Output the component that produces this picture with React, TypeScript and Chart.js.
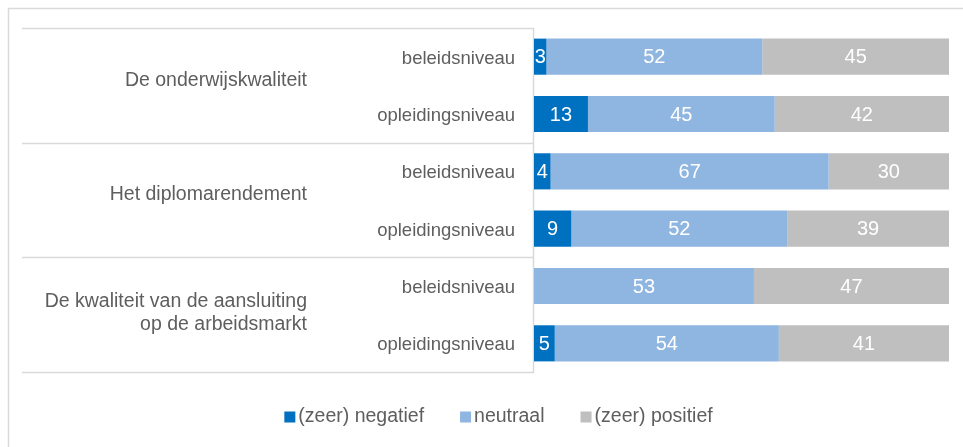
import React, { useEffect, useRef } from "react";
import { Chart, registerables } from "chart.js";

Chart.register(...registerables);

const subLabels = [
  "beleidsniveau",
  "opleidingsniveau",
  "beleidsniveau",
  "opleidingsniveau",
  "beleidsniveau",
  "opleidingsniveau",
];
const groupLabels: string[][] = [
  ["De onderwijskwaliteit"],
  ["Het diplomarendement"],
  ["De kwaliteit van de aansluiting", "op de arbeidsmarkt"],
];
const seriesNames = ["(zeer) negatief", "neutraal", "(zeer) positief"];
const negatief = [3, 13, 4, 9, 0, 5];
const neutraal = [52, 45, 67, 52, 53, 54];
const positief = [45, 42, 30, 39, 47, 41];
const colors = ["#0070C0", "#8FB5E1", "#BFBFBF"];

const FONT = '"Liberation Sans", Arial, sans-serif';
const TEXT_COLOR = "#5E5E5E";
const LINE_COLOR = "#D9D9D9";

const overlay = {
  id: "overlay",
  beforeDraw(chart: any) {
    const ctx = chart.ctx;
    const area = chart.chartArea;
    const y = chart.scales.y;
    ctx.save();
    ctx.strokeStyle = LINE_COLOR;
    ctx.lineWidth = 1.5;
    ctx.beginPath();
    ctx.moveTo(8.5, chart.height);
    ctx.lineTo(8.5, 8.5);
    ctx.lineTo(chart.width, 8.5);
    ctx.stroke();
    ctx.beginPath();
    ctx.moveTo(area.left - 0.5, area.top);
    ctx.lineTo(area.left - 0.5, area.bottom);
    ctx.stroke();
    const n = subLabels.length;
    for (let g = 0; g <= groupLabels.length; g++) {
      const idx = g * 2;
      let py: number;
      if (idx === 0) py = area.top;
      else if (idx >= n) py = area.bottom;
      else py = (y.getPixelForValue(idx - 1) + y.getPixelForValue(idx)) / 2;
      ctx.beginPath();
      ctx.moveTo(22, Math.round(py) + 0.5);
      ctx.lineTo(area.left, Math.round(py) + 0.5);
      ctx.stroke();
    }
    ctx.restore();
  },
  afterDatasetsDraw(chart: any) {
    const ctx = chart.ctx;
    const area = chart.chartArea;
    ctx.save();
    ctx.font = `20px ${FONT}`;
    ctx.fillStyle = "#FFFFFF";
    ctx.textAlign = "center";
    ctx.textBaseline = "middle";
    chart.data.datasets.forEach((ds: any, i: number) => {
      const meta = chart.getDatasetMeta(i);
      meta.data.forEach((bar: any, j: number) => {
        const v = ds.data[j];
        if (!v) return;
        const p = bar.getProps(["x", "y", "base"], true);
        const right = Math.min(p.x, area.right);
        const left = Math.max(p.base, area.left);
        ctx.fillText(String(v), (left + right) / 2, p.y + 1);
      });
    });
    ctx.restore();
  },
  afterDraw(chart: any) {
    const ctx = chart.ctx;
    const y = chart.scales.y;
    ctx.save();
    ctx.fillStyle = TEXT_COLOR;
    ctx.textBaseline = "middle";
    ctx.font = `18.5px ${FONT}`;
    ctx.textAlign = "right";
    subLabels.forEach((l, i) => {
      ctx.fillText(l, 515, y.getPixelForValue(i) + 2);
    });
    ctx.font = `19.5px ${FONT}`;
    groupLabels.forEach((lines, g) => {
      const cy = (y.getPixelForValue(g * 2) + y.getPixelForValue(g * 2 + 1)) / 2;
      const off = lines.length > 1 ? -2 : -5;
      lines.forEach((t, k) => {
        ctx.fillText(t, 307, cy + off + (k - (lines.length - 1) / 2) * 23);
      });
    });
    ctx.font = `19.5px ${FONT}`;
    ctx.textAlign = "left";
    const box = 11;
    const gapText = 3;
    const gapItem = 36;
    const widths = seriesNames.map((s) => box + gapText + ctx.measureText(s).width);
    const total = widths.reduce((a, b) => a + b, 0) + gapItem * (seriesNames.length - 1);
    let x = 498.5 - total / 2;
    const ly = 417;
    seriesNames.forEach((s, i) => {
      ctx.fillStyle = colors[i];
      ctx.fillRect(x, ly - box / 2, box, box);
      ctx.fillStyle = TEXT_COLOR;
      ctx.fillText(s, x + box + gapText, ly);
      x += widths[i] + gapItem;
    });
    ctx.restore();
  },
};

export default function App() {
  const ref = useRef<HTMLCanvasElement | null>(null);
  useEffect(() => {
    if (!ref.current) return;
    const chart = new Chart(ref.current, {
      type: "bar",
      data: {
        labels: subLabels,
        datasets: [negatief, neutraal, positief].map((d, i) => ({
          label: seriesNames[i],
          data: d,
          backgroundColor: colors[i],
          borderWidth: 0,
          barPercentage: 0.63,
          categoryPercentage: 1,
        })),
      },
      options: {
        indexAxis: "y",
        responsive: false,
        animation: false,
        layout: { padding: { left: 534, top: 28, right: 14, bottom: 75 } },
        scales: {
          x: { stacked: true, min: 0, max: 100, display: false },
          y: { stacked: true, display: false },
        },
        plugins: {
          legend: { display: false },
          tooltip: { enabled: false },
        },
      },
      plugins: [overlay],
    });
    return () => chart.destroy();
  }, []);
  return (
    <div style={{ position: "fixed", left: 0, top: 0, width: 963, height: 447, background: "#fff" }}>
      <canvas ref={ref} width={963} height={447} style={{ width: 963, height: 447, display: "block" }} />
    </div>
  );
}
